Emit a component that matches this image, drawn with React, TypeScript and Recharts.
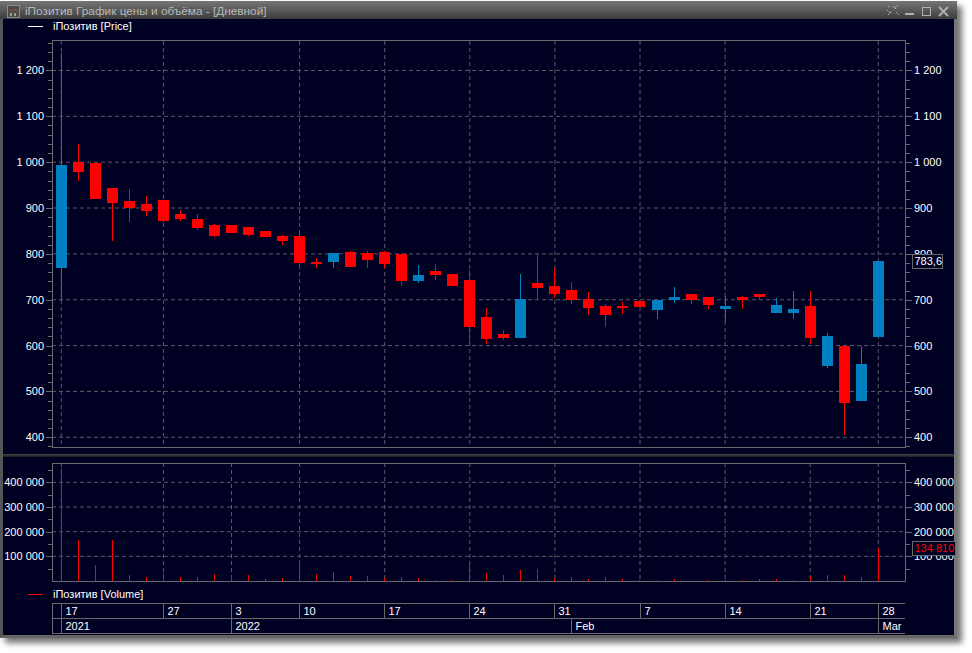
import { Bar, CartesianGrid, ComposedChart, XAxis, YAxis } from 'recharts';

const dates = [
  '2021-12-17', '2021-12-20', '2021-12-21', '2021-12-22', '2021-12-23', '2021-12-24', '2021-12-27',
  '2021-12-28', '2021-12-29', '2021-12-30', '2022-01-03', '2022-01-04', '2022-01-05', '2022-01-06',
  '2022-01-10', '2022-01-11', '2022-01-12', '2022-01-13', '2022-01-14', '2022-01-17', '2022-01-18',
  '2022-01-19', '2022-01-20', '2022-01-21', '2022-01-24', '2022-01-25', '2022-01-26', '2022-01-27',
  '2022-01-28', '2022-01-31', '2022-02-01', '2022-02-02', '2022-02-03', '2022-02-04', '2022-02-07',
  '2022-02-08', '2022-02-09', '2022-02-10', '2022-02-11', '2022-02-14', '2022-02-15', '2022-02-16',
  '2022-02-17', '2022-02-18', '2022-02-21', '2022-02-22', '2022-02-24', '2022-02-25', '2022-02-28',
];
// body top / bottom, wick high / low
const bodyTop = [
  994, 1000, 999, 944, 916, 909, 918, 888, 877, 864, 862, 859, 849, 840, 840, 783, 801,
  805, 801, 805, 799, 755, 762, 757, 742, 662, 625, 701, 736, 729, 722, 701, 686, 686,
  698, 699, 705, 712, 705, 686, 705, 712, 688, 679, 686, 620, 599, 559, 783.6,
];
const bodyBottom = [
  769, 978, 920, 912, 900, 894, 872, 875, 857, 838, 846, 842, 836, 827, 781, 777, 783,
  772, 786, 779, 740, 740, 755, 729, 640, 614, 616, 616, 725, 712, 699, 683, 666, 683,
  685, 677, 700, 699, 688, 679, 699, 707, 670, 672, 616, 555, 475, 479, 618,
];
const highs = [
  1238, 1039, 999, 944, 942, 927, 918, 896, 888, 866, 864, 859, 849, 842, 844, 792, 801,
  807, 807, 807, 799, 775, 777, 757, 764, 683, 633, 757, 799, 770, 738, 716, 690, 694,
  699, 699, 727, 712, 707, 709, 709, 712, 703, 718, 718, 627, 599, 599, 783.6,
];
const lows = [
  700, 959, 920, 827, 870, 883, 870, 872, 851, 836, 846, 838, 836, 820, 768, 770, 770,
  772, 770, 769, 729, 736, 744, 729, 603, 603, 612, 616, 699, 703, 690, 666, 640, 668,
  685, 659, 692, 690, 679, 651, 679, 699, 670, 657, 603, 551, 405, 479, 618,
];
const isUp = [
  1, 0, 0, 0, 0, 0, 0, 0, 0, 0, 0, 0, 0, 0, 0, 0, 1,
  0, 0, 0, 0, 1, 0, 0, 0, 0, 0, 1, 0, 0, 0, 0, 0, 0,
  0, 1, 1, 0, 0, 1, 0, 0, 1, 1, 0, 1, 0, 1, 1,
];
const volumes = [
  459000, 167000, 66000, 167000, 26000, 18000, 34000, 18000, 18000, 30000, 22000, 26000, 9000, 14000, 86000, 30000, 38000,
  22000, 22000, 14000, 18000, 14000, 5000, 5000, 70000, 34000, 26000, 46000, 50000, 14000, 18000, 9000, 18000, 9000,
  5000, 4000, 9000, 1000, 5000, 3000, 5000, 9000, 9000, 5000, 22000, 26000, 26000, 18000, 134810,
];

const dayTicks = ['2021-12-17', '2021-12-27', '2022-01-03', '2022-01-10', '2022-01-17', '2022-01-24', '2022-01-31', '2022-02-07', '2022-02-14', '2022-02-21', '2022-02-28'];
const dayLabels = ['17', '27', '3', '10', '17', '24', '31', '7', '14', '21', '28'];
const periodTicks = ['2021-12-17', '2022-01-03', '2022-02-01', '2022-02-28'];
const periodLabels = ['2021', '2022', 'Feb', 'Mar'];

const priceMajor = [400, 500, 600, 700, 800, 900, 1000, 1100, 1200];
const priceMinor = [380, 420, 440, 460, 480, 520, 540, 560, 580, 620, 640, 660, 680, 720, 740, 760, 780, 820, 840, 860, 880, 920, 940, 960, 980, 1020, 1040, 1060, 1080, 1120, 1140, 1160, 1180, 1220, 1240, 1260];
const volumeMajor = [100000, 200000, 300000, 400000];
const volumeMinor = [50000, 150000, 250000, 350000, 450000];

const lastPrice = 783.6;
const lastVolume = 134810;

const priceData = dates.map((date, i) => ({
  date,
  range: [lows[i], highs[i]],
  top: bodyTop[i],
  bottom: bodyBottom[i],
  up: isUp[i] === 1,
}));
const volumeData = dates.map((date, i) => ({ date, volume: volumes[i] }));

const BG = '#000023';
const LINE = '#6a6a6a';
const GRID = '#5a5a64';
const RED = '#ff0000';
const BLUE = '#0080c0';
const FONT = '"Liberation Sans", Arial, sans-serif';

const groupThousands = (v: number) => String(v).replace(/\B(?=(\d{3})+(?!\d))/g, ' ');

function Candle(props: any) {
  const { x, y, width, height, payload } = props;
  const color = payload.up ? BLUE : RED;
  const [low, high] = payload.range;
  const perUnit = height / (high - low);
  const left = Math.round(x + width / 2 - 0.5);
  const yTop = Math.round(y + (high - payload.top) * perUnit);
  const yBottom = Math.round(y + (high - payload.bottom) * perUnit);
  return (
    <g shapeRendering="crispEdges">
      <rect x={left} y={y} width={1} height={height} fill={color} />
      <rect x={left - 5} y={yTop} width={11} height={Math.max(yBottom - yTop, 2)} fill={color} />
    </g>
  );
}

function VolumeStem(props: any) {
  const { x, y, width, height } = props;
  return (
    <rect x={Math.round(x + width / 2 - 0.5)} y={y} width={1} height={height} fill={RED} shapeRendering="crispEdges" />
  );
}

function ValueTick(props: any) {
  const { x, y, payload, side, major, tag, tagColor } = props;
  const value = payload.value;
  const dir = side === 'left' ? -1 : 1;
  if (value === tag) {
    const label = groupThousands(value).replace('.', ',');
    const w = value > 1000 ? 43 : 30;
    return (
      <g>
        <rect x={Math.round(x) + 6} y={Math.round(y) - 7} width={w} height={14} fill={BG} stroke={LINE} shapeRendering="crispEdges" />
        <text x={x + 8.5} y={y + 4} fill={tagColor} fontSize={11} fontFamily={FONT}>{label}</text>
      </g>
    );
  }
  const isMajor = major.includes(value);
  const py = Math.round(y) + 0.5;
  return (
    <g>
      <line x1={x} x2={x + dir * (isMajor ? 6 : 4)} y1={py} y2={py} stroke={LINE} shapeRendering="crispEdges" />
      {isMajor && (
        <text
          x={x + dir * 8}
          y={y + 4}
          fill="#ffffff"
          fontSize={11}
          fontFamily={FONT}
          textAnchor={side === 'left' ? 'end' : 'start'}
        >
          {groupThousands(value)}
        </text>
      )}
    </g>
  );
}

function RowTick(props: any) {
  const { x, y, payload, ticks, labels, y1, y2 } = props;
  const px = Math.round(x - 0.5) + 0.5;
  const label = labels[ticks.indexOf(payload.value)];
  return (
    <g>
      <line x1={px} x2={px} y1={y + y1} y2={y + y2} stroke={LINE} shapeRendering="crispEdges" />
      <text x={px + 4} y={y + y2 - 3} fill="#ffffff" fontSize={11} fontFamily={FONT}>{label}</text>
    </g>
  );
}

function Hline({ top, left = 52, width = 853 }: { top: number; left?: number; width?: number }) {
  return <div style={{ position: 'absolute', left, top, width, height: 1, background: LINE }} />;
}

function Frame({ top, height }: { top: number; height: number }) {
  return (
    <div style={{ position: 'absolute', left: 52, top, width: 854, height, boxSizing: 'border-box', border: `1px solid ${LINE}` }} />
  );
}

function LegendRow({ top, color, text }: { top: number; color: string; text: string }) {
  return (
    <>
      <div style={{ position: 'absolute', left: 28, top: top + 7, width: 15, height: 1, background: color }} />
      <div style={{ position: 'absolute', left: 53, top, color: '#ffffff', fontSize: 11, lineHeight: '14px', fontFamily: FONT, whiteSpace: 'nowrap' }}>{text}</div>
    </>
  );
}

function TitleBar() {
  return (
    <div
      style={{
        position: 'absolute', left: 0, top: 1, width: 957, height: 18,
        background: 'linear-gradient(#767676, #3c3c3c)', fontFamily: FONT,
      }}
    >
      <svg style={{ position: 'absolute', left: 7, top: 4 }} width={13} height={13}>
        <rect x={0.5} y={0.5} width={12} height={12} fill="#4a4a4a" stroke="#8a8a8a" />
        <polyline points="2,4 5,7 8,4 11,7" fill="none" stroke="#c04030" strokeWidth={1} />
        <rect x={3} y={8} width={2} height={3} fill="#999" />
        <rect x={7} y={8} width={2} height={3} fill="#999" />
      </svg>
      <div style={{ position: 'absolute', left: 25, top: 3, fontSize: 11.8, lineHeight: '14px', color: '#b8b8b8', whiteSpace: 'nowrap' }}>
        iПозитив График цены и объёма - [Дневной]
      </div>
      <svg style={{ position: 'absolute', left: 885, top: 2 }} width={66} height={15} fill="none" stroke="#b0b0b0">
        <path d="M3 12 L7 8 M9 5 L14 2 M3 3 L5 5 M11 9 L14 12 M2 7 L5 10 M8 3 L11 6" strokeDasharray="2 1" />
        <rect x={20} y={10} width={9} height={2} fill="#b0b0b0" stroke="none" />
        <rect x={37.5} y={4.5} width={8} height={8} />
        <path d="M54 4 L63 13 M63 4 L54 13" strokeWidth={2} />
      </svg>
    </div>
  );
}

export default function App() {
  return (
    <div style={{ position: 'fixed', left: 0, top: 0, width: 972, height: 653, background: '#ffffff', overflow: 'hidden' }}>
      <div
        style={{
          position: 'absolute', left: 0, top: 1, width: 957, height: 637, background: BG,
          boxShadow: '5px 5px 6px rgba(0,0,0,0.55)',
        }}
      />
      <TitleBar />

      {/* window border */}
      <div style={{ position: 'absolute', left: 0, top: 19, width: 957, height: 619, boxSizing: 'border-box', borderLeft: '3px solid #555', borderRight: '3px solid #777', borderBottom: '3px solid #666' }} />

      <LegendRow top={19} color="#ffffff" text="iПозитив [Price]" />
      <LegendRow top={587} color={RED} text="iПозитив [Volume]" />

      {/* panel splitter */}
      <div style={{ position: 'absolute', left: 3, top: 454, width: 951, height: 3, background: 'linear-gradient(#444, #1c1c1c)' }} />

      <div style={{ position: 'absolute', left: 0, top: 0 }}>
        <ComposedChart
          width={960}
          height={452}
          data={priceData}
          margin={{ top: 41, right: 0, bottom: 4, left: 0 }}
        >
          <CartesianGrid
            stroke={GRID}
            strokeDasharray="4 3"
            horizontalValues={priceMajor}
            verticalValues={dayTicks}
            yAxisId="left"
          />
          <XAxis dataKey="date" hide padding={{ left: 0.8, right: 19.2 }} />
          <YAxis
            yAxisId="left"
            width={52}
            domain={[376.6, 1264.3]}
            allowDataOverflow
            ticks={[...priceMinor, ...priceMajor]}
            interval={0}
            axisLine={false}
            tickLine={false}
            tickSize={0}
            tickMargin={0}
            tick={(p: any) => <ValueTick {...p} side="left" major={priceMajor} />}
          />
          <YAxis
            yAxisId="right"
            orientation="right"
            width={54}
            domain={[376.6, 1264.3]}
            allowDataOverflow
            ticks={[...priceMinor, ...priceMajor, lastPrice]}
            interval={0}
            axisLine={false}
            tickLine={false}
            tickSize={0}
            tickMargin={0}
            tick={(p: any) => <ValueTick {...p} side="right" major={priceMajor} tag={lastPrice} tagColor="#ffffff" />}
          />
          <Bar yAxisId="left" dataKey="range" barSize={11} shape={Candle} isAnimationActive={false} />
        </ComposedChart>
      </div>
      <Frame top={40} height={408} />

      <div style={{ position: 'absolute', left: 0, top: 455 }}>
        <ComposedChart
          width={960}
          height={181}
          data={volumeData}
          margin={{ top: 8, right: 0, bottom: 3, left: 0 }}
        >
          <CartesianGrid
            stroke={GRID}
            strokeDasharray="4 3"
            horizontalValues={volumeMajor}
            verticalValues={dayTicks}
            xAxisId="days"
            yAxisId="left"
          />
          <XAxis
            xAxisId="days"
            dataKey="date"
            height={37}
            padding={{ left: 0.8, right: 19.2 }}
            ticks={dayTicks}
            interval={0}
            axisLine={false}
            tickLine={false}
            tickSize={0}
            tickMargin={0}
            tick={(p: any) => <RowTick {...p} ticks={dayTicks} labels={dayLabels} y1={22} y2={37} />}
          />
          <XAxis
            xAxisId="periods"
            dataKey="date"
            height={15}
            padding={{ left: 0.8, right: 19.2 }}
            ticks={periodTicks}
            interval={0}
            axisLine={false}
            tickLine={false}
            tickSize={0}
            tickMargin={0}
            tick={(p: any) => <RowTick {...p} ticks={periodTicks} labels={periodLabels} y1={0} y2={15} />}
          />
          <YAxis
            yAxisId="left"
            width={52}
            domain={[0, 478300]}
            allowDataOverflow
            ticks={[...volumeMinor, ...volumeMajor]}
            interval={0}
            axisLine={false}
            tickLine={false}
            tickSize={0}
            tickMargin={0}
            tick={(p: any) => <ValueTick {...p} side="left" major={volumeMajor} />}
          />
          <YAxis
            yAxisId="right"
            orientation="right"
            width={54}
            domain={[0, 478300]}
            allowDataOverflow
            ticks={[...volumeMinor, ...volumeMajor, lastVolume]}
            interval={0}
            axisLine={false}
            tickLine={false}
            tickSize={0}
            tickMargin={0}
            tick={(p: any) => <ValueTick {...p} side="right" major={volumeMajor} tag={lastVolume} tagColor={RED} />}
          />
          <Bar xAxisId="days" yAxisId="left" dataKey="volume" barSize={1} shape={VolumeStem} isAnimationActive={false} />
        </ComposedChart>
      </div>
      <Frame top={463} height={119} />
      <Hline top={603} />
      <Hline top={618} />
      <Hline top={633} />
      <div style={{ position: 'absolute', left: 52, top: 603, width: 1, height: 31, background: LINE }} />
    </div>
  );
}
